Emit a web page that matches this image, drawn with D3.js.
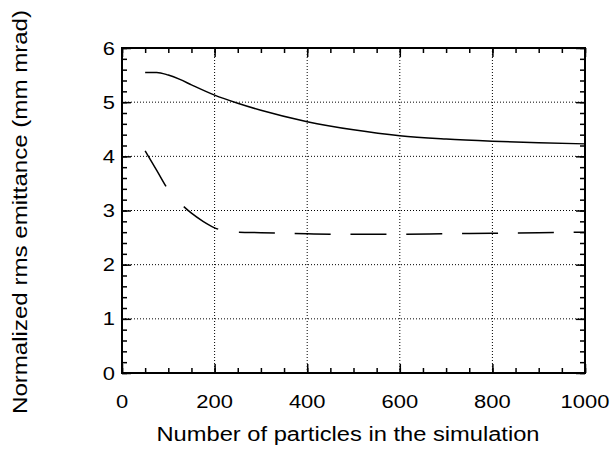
<!DOCTYPE html>
<html>
<head>
<meta charset="utf-8">
<script src="https://cdn.jsdelivr.net/npm/d3@7"></script>
<style>
    body { margin: 0; background: #fff; }
    text { font-family: "Liberation Sans", Arial, sans-serif; fill: #000; }
</style>
</head>
<body>
<div id="chart"></div>
<script>
// Emittance vs particle count, two curves

const solidX = [50, 75, 100, 125, 150, 200, 250, 300, 400, 500, 600, 700, 800, 900, 1000];
const solidY = [5.55, 5.55, 5.5, 5.42, 5.32, 5.13, 4.98, 4.85, 4.64, 4.49, 4.38, 4.32, 4.28, 4.25, 4.23];

const dashX = [50, 75, 100, 125, 150, 175, 200, 225, 250, 300, 400, 500, 600, 700, 800, 900, 1000];
const dashY = [4.1, 3.74, 3.38, 3.14, 2.95, 2.8, 2.68, 2.62, 2.6, 2.59, 2.57, 2.56, 2.56, 2.57, 2.58, 2.59, 2.6];

const xTicks = [0, 200, 400, 600, 800, 1000];
const yTicks = [0, 1, 2, 3, 4, 5, 6];

function createVisualization() {
    const svgWidth = 610;
    const svgHeight = 454;
    const margin = { top: 48, right: 25, bottom: 81, left: 122 };
    const width = svgWidth - margin.left - margin.right;
    const height = svgHeight - margin.top - margin.bottom;

    const root = d3.select("#chart")
        .append("svg")
        .attr("width", svgWidth)
        .attr("height", svgHeight);

    const svg = root.append("g")
        .attr("transform", `translate(${margin.left},${margin.top})`);

    const xScale = d3.scaleLinear().domain([0, 1000]).range([0, width]);
    const yScale = d3.scaleLinear().domain([0, 6]).range([height, 0]);

    // dotted grid
    svg.selectAll(".gx")
        .data(xTicks.slice(1, -1))
        .enter().append("line")
        .attr("x1", d => xScale(d)).attr("x2", d => xScale(d))
        .attr("y1", 0).attr("y2", height)
        .attr("stroke", "#000").attr("stroke-width", 1)
        .attr("stroke-dasharray", "1,2");

    svg.selectAll(".gy")
        .data(yTicks.slice(1, -1))
        .enter().append("line")
        .attr("x1", 0).attr("x2", width)
        .attr("y1", d => yScale(d)).attr("y2", d => yScale(d))
        .attr("stroke", "#000").attr("stroke-width", 1)
        .attr("stroke-dasharray", "1,2");

    // Axes with inward ticks
    const xMinor = d3.range(0, 1001, 50);
    const yMinor = d3.range(0, 6.01, 0.2);

    const axes = [
        [d3.axisBottom(xScale).tickValues(xMinor).tickSize(-5).tickFormat(""), `translate(0,${height})`],
        [d3.axisTop(xScale).tickValues(xMinor).tickSize(-5).tickFormat(""), "translate(0,0)"],
        [d3.axisLeft(yScale).tickValues(yMinor).tickSize(-5).tickFormat(""), "translate(0,0)"],
        [d3.axisRight(yScale).tickValues(yMinor).tickSize(-5).tickFormat(""), `translate(${width},0)`],
        [d3.axisBottom(xScale).tickValues(xTicks).tickSize(-9).tickFormat(""), `translate(0,${height})`],
        [d3.axisTop(xScale).tickValues(xTicks).tickSize(-9).tickFormat(""), "translate(0,0)"],
        [d3.axisLeft(yScale).tickValues(yTicks).tickSize(-9).tickFormat(""), "translate(0,0)"],
        [d3.axisRight(yScale).tickValues(yTicks).tickSize(-9).tickFormat(""), `translate(${width},0)`]
    ];
    axes.forEach(([ax, tr]) => {
        const g = svg.append("g").attr("transform", tr).call(ax);
        g.select(".domain").remove();
        g.selectAll("line").attr("stroke", "#000").attr("stroke-width", 1.5);
    });

    svg.append("rect")
        .attr("width", width).attr("height", height)
        .attr("fill", "none").attr("stroke", "#000").attr("stroke-width", 2);

    // tick labels (glyphs in the reference are a bit wide)
    svg.selectAll(".xl")
        .data(xTicks)
        .enter().append("text")
        .attr("x", d => xScale(d))
        .attr("y", height + 35)
        .attr("text-anchor", "middle")
        .attr("textLength", d => String(d).length * 12.2)
        .attr("lengthAdjust", "spacingAndGlyphs")
        .style("font-size", "18px")
        .text(d => d);

    svg.selectAll(".yl")
        .data(yTicks)
        .enter().append("text")
        .attr("x", -7)
        .attr("y", d => yScale(d) + 6.5)
        .attr("text-anchor", "end")
        .attr("textLength", 12.2)
        .attr("lengthAdjust", "spacingAndGlyphs")
        .style("font-size", "18px")
        .text(d => d);

    // curves
    const line = d3.line()
        .x(d => xScale(d[0]))
        .y(d => yScale(d[1]))
        .curve(d3.curveMonotoneX);

    svg.append("path")
        .datum(d3.zip(solidX, solidY))
        .attr("d", line)
        .attr("fill", "none").attr("stroke", "#000").attr("stroke-width", 1.5);

    // dash pattern: the first two gaps are longer, then regular
    const dashPattern = [41, 27, 41.5, 21].concat(d3.range(12).flatMap(() => [36, 19.8]));
    svg.append("path")
        .datum(d3.zip(dashX, dashY))
        .attr("d", line)
        .attr("fill", "none").attr("stroke", "#000").attr("stroke-width", 1.5)
        .attr("stroke-dasharray", dashPattern.join(","));

    // axis titles
    root.append("text")
        .attr("x", 348)
        .attr("y", 441)
        .attr("text-anchor", "middle")
        .attr("textLength", 383)
        .attr("lengthAdjust", "spacingAndGlyphs")
        .style("font-size", "20px")
        .text("Number of particles in the simulation");

    root.append("text")
        .attr("transform", "translate(27,212) rotate(-90)")
        .attr("text-anchor", "middle")
        .attr("textLength", 404)
        .attr("lengthAdjust", "spacingAndGlyphs")
        .style("font-size", "20px")
        .text("Normalized rms emittance (mm mrad)");
}

createVisualization();
</script>
</body>
</html>
